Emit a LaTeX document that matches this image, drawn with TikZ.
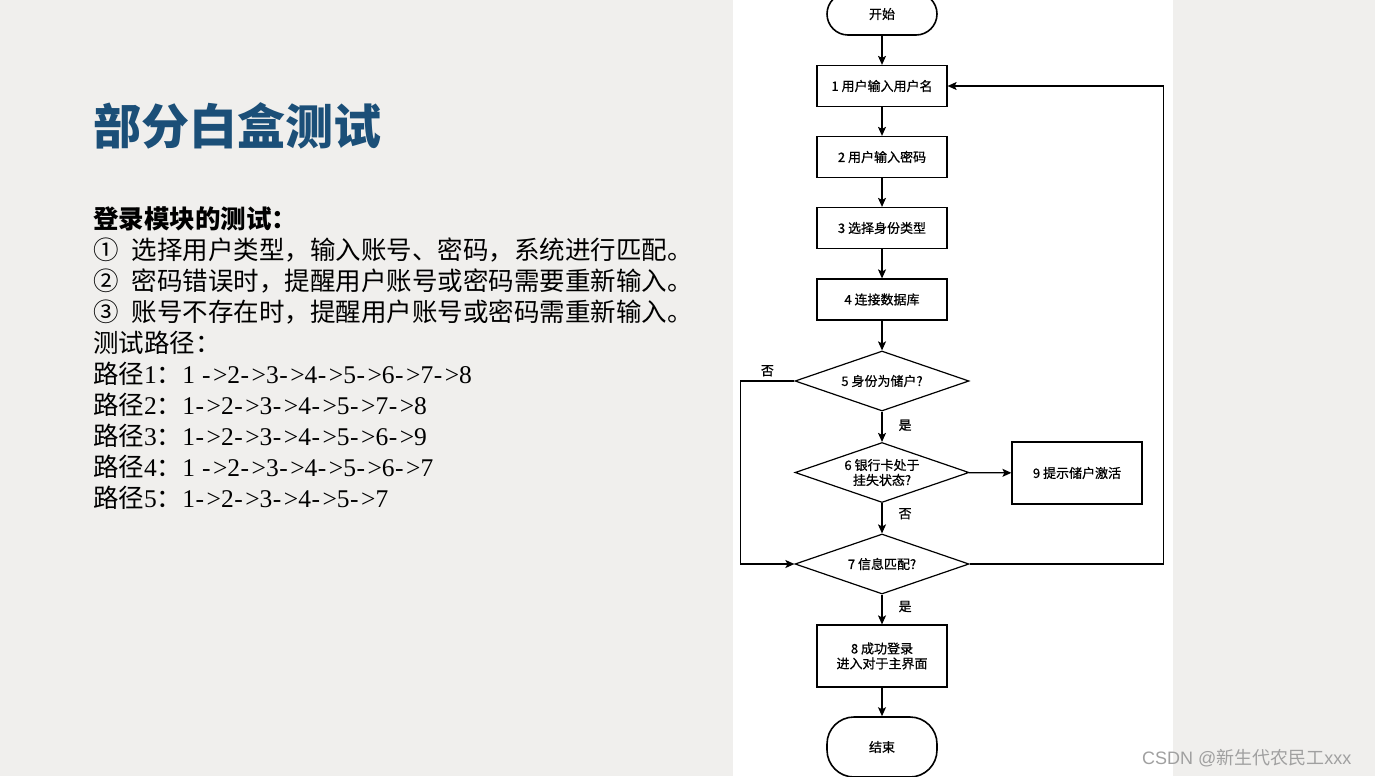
\documentclass[tikz,border=0pt]{standalone}
\usepackage{fontspec}
\setmainfont{Liberation Serif}
\setsansfont{Liberation Sans}
\newfontfamily\cjk{Noto Sans CJK SC}
\newfontfamily\cjkm[FakeBold=0.7]{Noto Sans CJK SC}
\usetikzlibrary{shapes.geometric,arrows.meta}
\definecolor{bgc}{HTML}{F0EFED}
\definecolor{titleblue}{HTML}{1B4F78}
\definecolor{wm}{HTML}{A0A0A0}
\newcommand\lat[1]{{\rmfamily #1}}
\newcommand\arw{\kern0.5pt-\kern2.5pt>}
\begin{document}
\begin{tikzpicture}[x=1pt,y=-1pt,
  body/.style={anchor=base west, inner sep=0, font=\cjk\fontsize{25.5}{31}\selectfont},
  ftext/.style={font=\cjkm\fontsize{13}{15}\selectfont, align=center},
  box/.style={draw, line width=1.2pt, minimum width=130pt, minimum height=41pt, inner sep=0, ftext},
  dia/.style={draw, diamond, line width=1.2pt, minimum width=174pt, minimum height=60pt, inner sep=0, aspect=2.9},
  term/.style={draw, line width=1.6pt, minimum width=110pt, inner sep=0, ftext},
  arr/.style={line width=1.2pt, -{Stealth[length=9pt,width=8pt,inset=2pt]}},
  lab/.style={ftext, inner sep=0}
]
\useasboundingbox (0,0) rectangle (1375,776);
\fill[bgc] (0,0) rectangle (1375,776);
\fill[white] (733,0) rectangle (1173,776);

% left text
\node[anchor=base west, inner sep=0, font=\cjk\bfseries\fontsize{48}{48}\selectfont, text=titleblue] (title) at (93,144) {部分白盒测试};
\node[body, font=\cjk\bfseries\fontsize{25.5}{31}\selectfont] (t1) at (93,228.5) {登录模块的测试：};
\node[body] (t2) at (93,259.5) {①\hspace{13pt}选择用户类型，输入账号、密码，系统进行匹配。};
\node[body] (t3) at (93,290.5) {②\hspace{13pt}密码错误时，提醒用户账号或密码需要重新输入。};
\node[body] (t4) at (93,321.5) {③\hspace{13pt}账号不存在时，提醒用户账号或密码需重新输入。};
\node[body] (t5) at (93,352.5) {测试路径：};
\node[body] (t6) at (93,383.5) {路径\lat{1}：\lat{1 \arw2\arw3\arw4\arw5\arw6\arw7\arw8}};
\node[body] (t7) at (93,414.5) {路径\lat{2}：\lat{1\arw2\arw3\arw4\arw5\arw7\arw8}};
\node[body] (t8) at (93,445.5) {路径\lat{3}：\lat{1\arw2\arw3\arw4\arw5\arw6\arw9}};
\node[body] (t9) at (93,476.5) {路径\lat{4}：\lat{1 \arw2\arw3\arw4\arw5\arw6\arw7}};
\node[body] (t10) at (93,507.5) {路径\lat{5}：\lat{1\arw2\arw3\arw4\arw5\arw7}};

% flowchart
\node[term, minimum height=42pt, rounded corners=21pt] (start) at (882,14) {开始};
\node[box] (b1) at (882,86) {1 用户输入用户名};
\node[box] (b2) at (882,157) {2 用户输入密码};
\node[box] (b3) at (882,228) {3 选择身份类型};
\node[box] (b4) at (882,299.5) {4 连接数据库};
\node[dia, label={[ftext]center:5 身份为储户?}] (d5) at (882,381) {};
\node[dia, label={[ftext]center:6 银行卡处于\\挂失状态?}] (d6) at (882,472.5) {};
\node[box, minimum height=62pt] (b9) at (1077,473) {9 提示储户激活};
\node[dia, label={[ftext]center:7 信息匹配?}] (d7) at (882,564) {};
\node[box, minimum height=62pt] (b8) at (882,656) {8 成功登录\\进入对于主界面};
\node[term, minimum height=60pt, rounded corners=27pt] (end) at (882,747) {结束};

\draw[arr] (start) -- (b1);
\draw[arr] (b1) -- (b2);
\draw[arr] (b2) -- (b3);
\draw[arr] (b3) -- (b4);
\draw[arr] (b4) -- (d5);
\draw[arr] (d5) -- node[lab, anchor=west, xshift=16pt, pos=0.45] {是} (d6);
\draw[arr] (d6) -- (b9);
\draw[arr] (d6) -- node[lab, anchor=west, xshift=16pt, pos=0.35] {否} (d7);
\draw[arr] (d7) -- node[lab, anchor=west, xshift=16pt, pos=0.4] {是} (b8);
\draw[arr] (b8) -- (end);
\draw[arr] (d5.west) -- node[lab, above=4pt] {否} ++(-54,0) |- (d7.west);
\draw[arr] (d7.east) -- ++(194,0) |- (b1.east);

% watermark
\node[anchor=base west, inner sep=0, text=wm, font=\sffamily\fontsize{18}{20}\selectfont] (wmk) at (1142,764) {CSDN @{\cjk 新生代农民工}xxx};
\end{tikzpicture}
\end{document}
